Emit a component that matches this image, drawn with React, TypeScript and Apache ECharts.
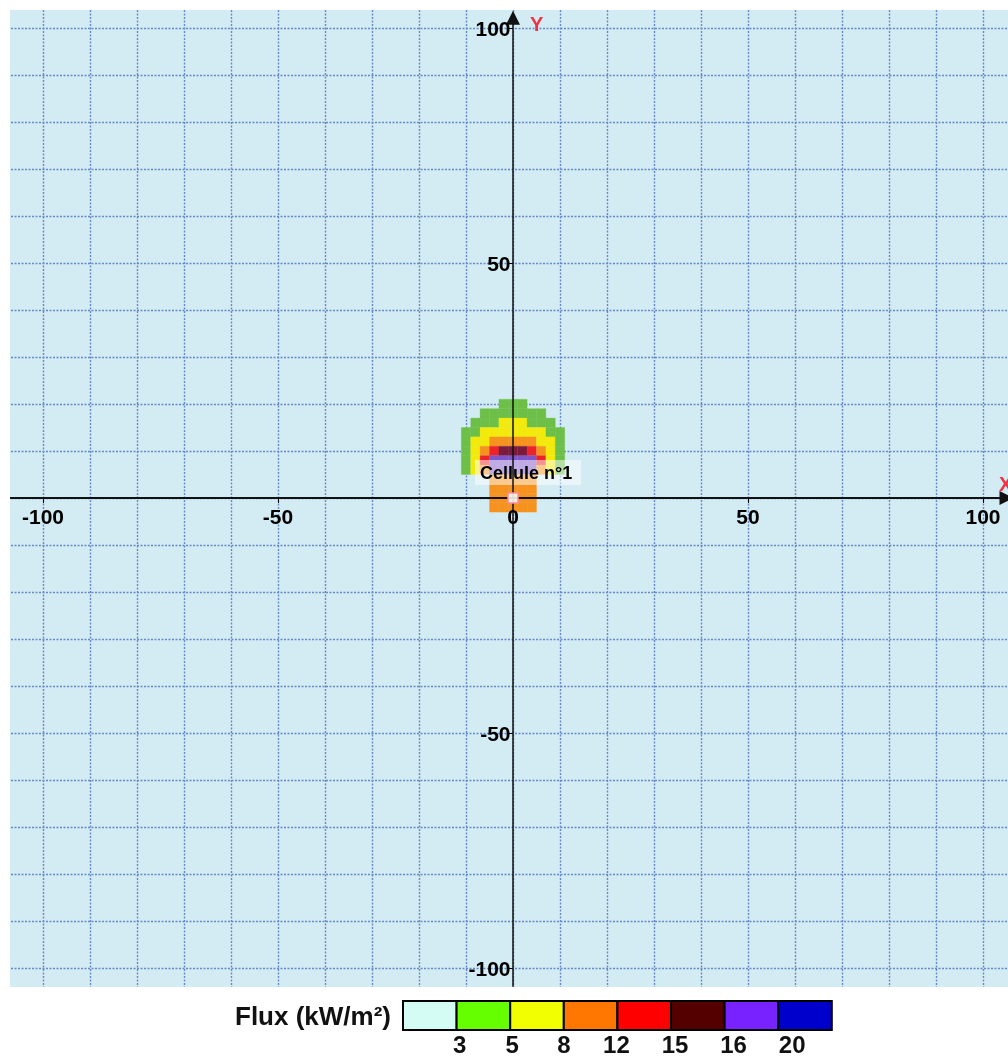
import React, { useEffect, useRef } from 'react';
import * as echarts from 'echarts';

// ---------- DATA ----------
const xCells = [-10, -8, -6, -4, -2, 0, 2, 4, 6, 8, 10];
const yRows = [20, 18, 16, 14, 12, 10, 8, 6, 4, 2, 0, -2];
const cellSize = 2;

// flux (kW/m²) per cell, 0 = not drawn
const fluxRow20 = [0, 0, 0, 0, 4, 4, 4, 0, 0, 0, 0];
const fluxRow18 = [0, 0, 4, 4, 4, 4, 4, 4, 4, 0, 0];
const fluxRow16 = [0, 4, 4, 4, 6, 6, 6, 4, 4, 4, 0];
const fluxRow14 = [4, 4, 6, 6, 6, 6, 6, 6, 6, 4, 4];
const fluxRow12 = [4, 6, 6, 10, 10, 10, 10, 10, 6, 6, 4];
const fluxRow10 = [4, 6, 10, 13, 15.5, 15.5, 15.5, 13, 10, 6, 4];
const fluxRow8 = [4, 6, 13, 17, 17, 17, 17, 17, 13, 6, 4];
const fluxRow6 = [4, 6, 10, 17, 17, 17, 17, 17, 10, 6, 4];
const fluxRow4 = [0, 0, 0, 10, 10, 10, 10, 10, 0, 0, 0];
const fluxRow2 = [0, 0, 0, 10, 10, 10, 10, 10, 0, 0, 0];
const fluxRow0 = [0, 0, 0, 10, 10, 10, 10, 10, 0, 0, 0];
const fluxRowM2 = [0, 0, 0, 10, 10, 10, 10, 10, 0, 0, 0];
const fluxRows = [
  fluxRow20, fluxRow18, fluxRow16, fluxRow14, fluxRow12, fluxRow10,
  fluxRow8, fluxRow6, fluxRow4, fluxRow2, fluxRow0, fluxRowM2,
];

const fluxThresholds = [3, 5, 8, 12, 15, 16, 20];
const mapColors = ['#d4fcf4', '#6cbf47', '#f3ea0c', '#f6921e', '#ec2329', '#7c1a3c', '#7f55c9', '#1c1cb8'];
const legendColors = ['#d4fcf4', '#66ff00', '#f2ff00', '#ff7700', '#ff0000', '#550000', '#7722ff', '#0000cc'];
const legendLabels = ['3', '5', '8', '12', '15', '16', '20'];
const legendTitle = 'Flux (kW/m²)';

const xTickLabels = [-100, -50, 0, 50, 100];
const yTickLabels = [-100, -50, 50, 100];

const cellLabel = 'Cellule n°1';
const cellLabelPos = [3.2, 5.4];
const sourcePoint = [0, 0];

// axis line extents (data units)
const xLineStart = -107.5;
const xArrowEnd = 105;
const yLineStart = -104;
const yArrowEnd = 102.2;

// ---------- LAYOUT ----------
const FONT = 'Liberation Sans, Arial, sans-serif';
const PX_PER_UNIT = 4.7;
const ORIGIN_X = 513;
const ORIGIN_Y = 498;
const AXIS_MIN = -150;
const AXIS_MAX = 150;
const LEGEND_BOX_LEFT = 403;
const LEGEND_BOX_W = 53.6;
const LEGEND_BOX_TOP = 1001;
const LEGEND_BOX_H = 29;
const LEGEND_LABEL_SHIFT = [3, 2, 0, -1, 4, 9, 14];

export default function App() {
  const ref = useRef<HTMLDivElement>(null);

  useEffect(() => {
    if (!ref.current) return;
    document.body.style.overflow = 'hidden';
    const chart = echarts.init(ref.current, null, { renderer: 'svg' });

    const cells: number[][] = [];
    yRows.forEach((y, r) => {
      xCells.forEach((x, c) => {
        const v = fluxRows[r][c];
        if (v > 0) cells.push([x, y, v]);
      });
    });

    const pieces: any[] = [{ lt: fluxThresholds[0], color: mapColors[0] }];
    for (let i = 0; i < fluxThresholds.length - 1; i++) {
      pieces.push({ gte: fluxThresholds[i], lt: fluxThresholds[i + 1], color: mapColors[i + 1] });
    }
    pieces.push({ gte: fluxThresholds[fluxThresholds.length - 1], color: mapColors[mapColors.length - 1] });

    const splitStyle = { color: '#6688cc', width: 1.4, type: [2, 1.5] as any };

    const gridLeft = ORIGIN_X + AXIS_MIN * PX_PER_UNIT;
    const gridTop = ORIGIN_Y - AXIS_MAX * PX_PER_UNIT;
    const gridSize = (AXIS_MAX - AXIS_MIN) * PX_PER_UNIT;

    const graphics: any[] = [
      { type: 'rect', z: 100, silent: true, shape: { x: 0, y: 0, width: 1008, height: 10 }, style: { fill: '#fff' } },
      { type: 'rect', z: 100, silent: true, shape: { x: 0, y: 0, width: 10, height: 1057 }, style: { fill: '#fff' } },
      { type: 'rect', z: 100, silent: true, shape: { x: 0, y: 987, width: 1008, height: 70 }, style: { fill: '#fff' } },
      { type: 'text', z: 101, x: 530, y: 14, style: { text: 'Y', fill: '#ee3344', font: `bold 20px ${FONT}` } },
      { type: 'text', z: 101, x: 999, y: 474, style: { text: 'X', fill: '#ee3344', font: `bold 20px ${FONT}` } },
      {
        type: 'text', z: 101, x: 391, y: LEGEND_BOX_TOP + LEGEND_BOX_H / 2,
        style: { text: legendTitle, fill: '#111', font: `bold 26px ${FONT}`, align: 'right', verticalAlign: 'middle' },
      },
    ];
    legendColors.forEach((c, i) => {
      graphics.push({
        type: 'rect', z: 101,
        shape: { x: LEGEND_BOX_LEFT + i * LEGEND_BOX_W, y: LEGEND_BOX_TOP, width: LEGEND_BOX_W, height: LEGEND_BOX_H },
        style: { fill: c, stroke: '#000', lineWidth: 2 },
      });
    });
    legendLabels.forEach((t, i) => {
      graphics.push({
        type: 'text', z: 101,
        x: LEGEND_BOX_LEFT + (i + 1) * LEGEND_BOX_W + LEGEND_LABEL_SHIFT[i],
        y: LEGEND_BOX_TOP + LEGEND_BOX_H + 14,
        style: { text: t, fill: '#111', font: `bold 24px ${FONT}`, align: 'center', verticalAlign: 'middle' },
      });
    });

    const axisCommon = {
      type: 'value',
      min: AXIS_MIN,
      max: AXIS_MAX,
      interval: 50,
      axisLine: { show: true, onZero: true, lineStyle: { color: 'rgba(0,0,0,0)', width: 0 } },
      axisTick: { show: true, length: 5, lineStyle: { color: '#000', width: 1 } },
      axisLabel: { show: false },
      splitLine: { show: true, lineStyle: splitStyle },
      minorTick: { show: false, splitNumber: 5 },
      minorSplitLine: { show: true, lineStyle: splitStyle },
    };

    const tickLabelStyle = {
      show: true, fontFamily: FONT, fontWeight: 'bold', fontSize: 21, color: '#000',
    };
    const hiddenSymbol = { color: 'rgba(0,0,0,0)', opacity: 1 };

    chart.setOption({
      animation: false,
      grid: {
        left: gridLeft, top: gridTop, width: gridSize, height: gridSize,
        outerBoundsMode: 'none', containLabel: false,
        show: true, backgroundColor: '#d3ebf2', borderWidth: 0,
      },
      xAxis: { ...axisCommon },
      yAxis: { ...axisCommon },
      visualMap: { type: 'piecewise', show: false, seriesIndex: 0, dimension: 2, pieces },
      series: [
        {
          type: 'custom',
          name: 'Flux',
          z: 2,
          silent: true,
          encode: { x: 0, y: 1 },
          data: cells,
          renderItem: (params: any, api: any) => {
            const x = api.value(0);
            const y = api.value(1);
            const h = cellSize / 2;
            const p0 = api.coord([x - h, y + h]);
            const p1 = api.coord([x + h, y - h]);
            return {
              type: 'rect',
              shape: { x: p0[0], y: p0[1], width: p1[0] - p0[0], height: p1[1] - p0[1] },
              style: { fill: api.visual('color'), stroke: api.visual('color'), lineWidth: 0.3 },
            };
          },
        },
        {
          type: 'scatter',
          name: 'label',
          z: 4,
          silent: true,
          symbol: 'rect',
          symbolSize: 1,
          itemStyle: hiddenSymbol,
          data: [cellLabelPos],
          label: {
            show: true, position: 'inside', formatter: cellLabel,
            fontFamily: FONT, fontWeight: 'bold', fontSize: 18, color: '#000', lineHeight: 18,
            backgroundColor: 'rgba(255,255,255,0.5)', padding: [4, 9, 3, 5],
          },
        },
        {
          type: 'scatter',
          name: 'axes',
          z: 5,
          silent: true,
          symbolSize: 0,
          data: [],
          markLine: {
            silent: true,
            symbol: ['none', 'triangle'],
            symbolSize: 14,
            label: { show: false },
            itemStyle: { color: '#111' },
            lineStyle: { color: '#111', width: 1.5, type: 'solid' },
            data: [
              [{ coord: [xLineStart, 0], lineStyle: { width: 2, color: '#111', type: 'solid' } }, { coord: [xArrowEnd, 0] }],
              [{ coord: [0, yLineStart] }, { coord: [0, yArrowEnd] }],
            ],
          },
        },
        {
          type: 'scatter',
          name: 'source',
          z: 6,
          silent: true,
          symbol: 'rect',
          symbolSize: 10,
          itemStyle: { color: 'rgba(255,255,255,0.85)', opacity: 1, borderColor: '#ff8aa0', borderWidth: 1.5 },
          data: [sourcePoint],
        },
        {
          type: 'scatter',
          name: 'xTickLabels',
          z: 7,
          silent: true,
          symbol: 'rect',
          symbolSize: 1,
          itemStyle: hiddenSymbol,
          data: xTickLabels.map((v) => [v, 0]),
          label: { ...tickLabelStyle, position: 'bottom', distance: 7, formatter: (p: any) => String(p.value[0]) },
        },
        {
          type: 'scatter',
          name: 'yTickLabels',
          z: 7,
          silent: true,
          symbol: 'rect',
          symbolSize: 1,
          itemStyle: hiddenSymbol,
          data: yTickLabels.map((v) => [0, v]),
          label: { ...tickLabelStyle, position: 'left', distance: 2, formatter: (p: any) => String(p.value[1]) },
        },
      ],
      graphic: { elements: graphics },
    });

    return () => chart.dispose();
  }, []);

  return (
    <div
      ref={ref}
      style={{ position: 'fixed', left: 0, top: 0, width: 1008, height: 1057 }}
    />
  );
}
